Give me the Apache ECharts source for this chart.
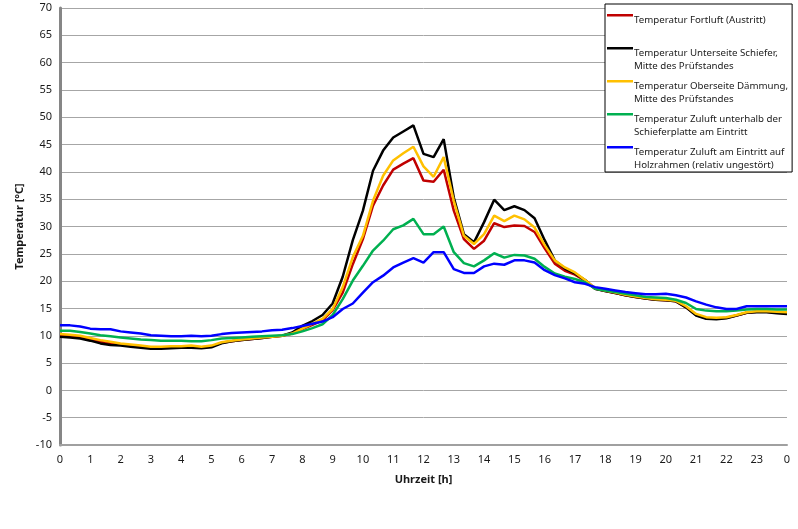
<!DOCTYPE html>
<html>
<head>
<meta charset="utf-8">
<script src="https://cdn.jsdelivr.net/npm/echarts@6/dist/echarts.min.js"></script>
<style>
  html, body { margin: 0; padding: 0; background: #ffffff; }
  #chart { width: 798px; height: 529px; }
</style>
</head>
<body>
<div id="chart"></div>
<script>
// Zeitachse: 20-Minuten-Werte von 0:00 bis 24:00
var times = [];
for (var h = 0; h < 24; h++) {
    ['00', '20', '40'].forEach(function (m) { times.push(h + ':' + m); });
}
times.push('0:00');

var fortluft = [
    10.0, 9.9, 9.7, 9.3, 8.9, 8.6, 8.4, 8.2, 8.0, 7.8,
    7.8, 7.9, 7.9, 8.0, 7.9, 8.0, 8.7, 9.0, 9.2, 9.4,
    9.6, 9.8, 10.0, 10.4, 11.2, 12.0, 12.8, 14.7, 17.9, 23.1,
    27.7, 33.8, 37.5, 40.4, 41.5, 42.5, 38.4, 38.2, 40.4, 32.9,
    27.7, 25.9, 27.4, 30.6, 29.9, 30.2, 30.1, 29.0, 26.0, 23.2,
    21.9, 21.2, 20.1, 18.6, 18.2, 17.8, 17.4, 17.1, 16.8, 16.6,
    16.5, 16.3, 15.2, 13.8, 13.2, 13.1, 13.3, 13.7, 14.2, 14.4,
    14.4, 14.2, 14.1
];
var unterseite = [
    9.8, 9.7, 9.5, 9.1, 8.6, 8.3, 8.2, 8.0, 7.8, 7.6,
    7.6, 7.7, 7.8, 7.8, 7.7, 7.9, 8.6, 9.0, 9.2, 9.4,
    9.6, 9.8, 10.0, 10.6, 11.8, 12.7, 13.8, 15.9, 20.8, 27.5,
    32.9, 40.2, 43.9, 46.3, 47.4, 48.5, 43.3, 42.7, 46.0, 35.3,
    28.6, 27.1, 30.8, 34.9, 33.0, 33.7, 33.0, 31.5, 27.5, 23.8,
    22.3, 21.4, 20.2, 18.6, 18.2, 17.8, 17.4, 17.1, 16.8, 16.6,
    16.5, 16.3, 15.2, 13.7, 13.1, 13.0, 13.2, 13.7, 14.2, 14.3,
    14.3, 14.1, 14.0
];
var oberseite = [
    10.3, 10.2, 10.0, 9.6, 9.2, 8.9, 8.6, 8.4, 8.2, 8.0,
    8.0, 8.1, 8.1, 8.2, 8.0, 8.2, 8.8, 9.1, 9.3, 9.5,
    9.7, 9.8, 10.0, 10.4, 11.3, 12.2, 13.1, 14.9, 18.9, 24.4,
    28.3, 34.7, 39.3, 42.1, 43.4, 44.6, 41.0, 39.1, 42.7, 34.7,
    28.3, 26.8, 28.6, 32.0, 31.0, 32.0, 31.3, 29.8, 26.6, 23.8,
    22.5, 21.6, 20.2, 18.7, 18.3, 17.9, 17.5, 17.2, 16.9, 16.7,
    16.6, 16.4, 15.4, 14.0, 13.4, 13.3, 13.4, 13.8, 14.3, 14.5,
    14.5, 14.4, 14.3
];
var zuluftSchiefer = [
    10.9, 10.9, 10.7, 10.4, 10.1, 9.9, 9.7, 9.5, 9.3, 9.2,
    9.1, 9.1, 9.1, 9.0, 9.0, 9.2, 9.5, 9.6, 9.7, 9.8,
    9.9, 10.0, 10.1, 10.3, 10.8, 11.4, 12.1, 13.8, 16.7, 20.1,
    22.8, 25.6, 27.4, 29.5, 30.2, 31.4, 28.6, 28.6, 30.0, 25.3,
    23.3, 22.7, 23.8, 25.1, 24.3, 24.8, 24.7, 24.1, 22.6, 21.4,
    20.8, 20.4, 19.8, 18.6, 18.3, 18.0, 17.7, 17.4, 17.1, 17.0,
    16.9, 16.6, 16.0, 14.9, 14.6, 14.5, 14.5, 14.6, 14.8, 14.9,
    14.9, 14.8, 14.8
];
var zuluftHolz = [
    11.9, 11.9, 11.7, 11.3, 11.2, 11.2, 10.8, 10.6, 10.4, 10.1,
    10.0, 9.9, 9.9, 10.0, 9.9, 10.0, 10.3, 10.5, 10.6, 10.7,
    10.8, 11.0, 11.1, 11.4, 11.8, 12.2, 12.6, 13.4, 14.9, 15.9,
    17.9, 19.8, 21.0, 22.5, 23.4, 24.2, 23.4, 25.3, 25.3, 22.2,
    21.5, 21.5, 22.7, 23.2, 23.0, 23.8, 23.8, 23.4, 22.0, 21.1,
    20.5, 19.8, 19.5, 18.9, 18.6, 18.3, 18.0, 17.8, 17.6, 17.6,
    17.7, 17.4, 17.0, 16.3, 15.7, 15.2, 14.9, 14.9, 15.4, 15.4,
    15.4, 15.4, 15.4
];

var names = [
    'Temperatur Fortluft (Austritt)\n ',
    'Temperatur Unterseite Schiefer,\nMitte des Prüfstandes',
    'Temperatur Oberseite Dämmung,\nMitte des Prüfstandes',
    'Temperatur Zuluft unterhalb der\nSchieferplatte am Eintritt',
    'Temperatur Zuluft am Eintritt auf\nHolzrahmen (relativ ungestört)'
];
var colors = ['#c00000', '#000000', '#ffc000', '#00b050', '#0000ff'];
var values = [fortluft, unterseite, oberseite, zuluftSchiefer, zuluftHolz];

var chart = echarts.init(document.getElementById('chart'));

var option = {
    backgroundColor: '#ffffff',
    animation: false,
    textStyle: { fontFamily: 'Noto Sans' },
    grid: { left: 60, right: 11, top: 8, bottom: 84 },
    legend: {
        orient: 'vertical',
        left: 605,
        top: 4,
        width: 182,
        padding: [10, 4, 0, 2],
        itemGap: 7,
        itemWidth: 26,
        itemHeight: 26,
        icon: 'path://M0,0L26,0L26,2.6L0,2.6Z M0,26L0.01,26Z',
        backgroundColor: '#ffffff',
        borderColor: '#000000',
        borderWidth: 1,
        textStyle: { fontSize: 9.7, color: '#1a1a1a', lineHeight: 13, padding: [0, 0, 0, -4] },
        data: names
    },
    xAxis: {
        type: 'category',
        boundaryGap: false,
        data: times,
        name: 'Uhrzeit [h]',
        nameLocation: 'middle',
        nameGap: 29,
        nameTextStyle: { fontSize: 11, fontWeight: 'bold', color: '#1a1a1a' },
        axisLine: { onZero: false, lineStyle: { color: '#a0a0a0', width: 2 } },
        axisTick: { show: false },
        axisLabel: {
            interval: 2,
            margin: 9,
            fontSize: 11,
            color: '#1a1a1a',
            formatter: function (v) { return v.split(':')[0]; }
        },
        splitLine: { show: false }
    },
    yAxis: {
        type: 'value',
        min: -10,
        max: 70,
        interval: 5,
        name: 'Temperatur [°C]',
        nameLocation: 'middle',
        nameRotate: 90,
        nameGap: 31,
        nameTextStyle: { fontSize: 11, fontWeight: 'bold', color: '#1a1a1a' },
        axisLine: { show: true, lineStyle: { color: '#868686', width: 3 } },
        axisTick: { show: false },
        axisLabel: { fontSize: 11, color: '#1a1a1a', margin: 8 },
        splitLine: { lineStyle: { color: '#a6a6a6', width: 1 } }
    },
    series: values.map(function (d, k) {
        return {
            name: names[k],
            type: 'line',
            data: d,
            symbol: 'none',
            color: colors[k],
            lineStyle: { width: 2.5, color: colors[k] }
        };
    })
};

chart.setOption(option);
</script>
</body>
</html>
